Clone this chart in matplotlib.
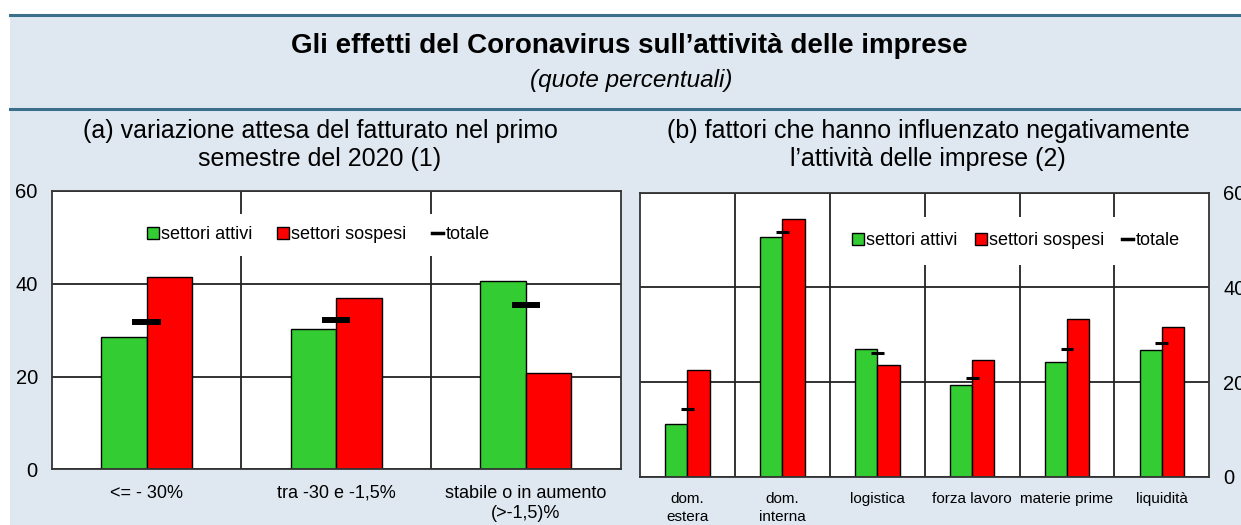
import numpy as np
import matplotlib
matplotlib.use('Agg')
import matplotlib.pyplot as plt
from matplotlib.lines import Line2D
from matplotlib.patches import Rectangle

plt.rcParams['font.family'] = ['Liberation Sans', 'DejaVu Sans']

# (a) variazione attesa del fatturato
cat_a = ['<= - 30%', 'tra -30 e -1,5%', 'stabile o in aumento\n(>-1,5)%']
attivi_a = [28.5, 30.3, 40.6]
sospesi_a = [41.4, 36.9, 20.8]
totale_a = [31.8, 32.1, 35.5]

# (b) fattori negativi
cat_b = ['dom.\nestera', 'dom.\ninterna', 'logistica', 'forza lavoro', 'materie prime', 'liquidità']
attivi_b = [11.1, 50.7, 27.0, 19.3, 24.3, 26.8]
sospesi_b = [22.6, 54.5, 23.6, 24.6, 33.3, 31.7]
totale_b = [14.3, 51.8, 26.2, 20.8, 27.0, 28.2]

GREEN = '#33cc33'
RED = '#ff0000'
BG = '#dfe8f1'
LINE = '#3b6f8c'

W, H = 1241, 525
fig = plt.figure(figsize=(W / 100, H / 100), dpi=100)
fig.patch.set_facecolor('white')

# light blue panel and the two dark rules
fig.add_artist(Rectangle((10 / W, 0), 1, 1 - 16 / H, transform=fig.transFigure,
                         facecolor=BG, edgecolor='none', zorder=0))
for yy in (15, 109):
    fig.add_artist(Line2D([10 / W, 1], [1 - yy / H, 1 - yy / H], transform=fig.transFigure,
                          color=LINE, linewidth=2.2, zorder=1))

fig.text(629 / W, 1 - 46 / H, 'Gli effetti del Coronavirus sull\u2019attività delle imprese',
         ha='center', va='center', fontsize=20, fontweight='bold')
fig.text(631 / W, 1 - 80 / H, '(quote percentuali)', ha='center', va='center',
         fontsize=17.5, style='italic')
fig.text(320 / W, 1 - 145 / H, '(a) variazione attesa del fatturato nel primo\nsemestre del 2020 (1)',
         ha='center', va='center', fontsize=18, linespacing=1.2)
fig.text(928 / W, 1 - 145 / H, '(b) fattori che hanno influenzato negativamente\nl\u2019attività delle imprese (2)',
         ha='center', va='center', fontsize=18, linespacing=1.2)


def panel(rect, cats, attivi, sospesi, totale, bw, dash_half, dash_lw, leg_pos, borderpad,
          colsp, xfs, xpad, xls, right=False):
    ax = fig.add_axes(rect)
    x = np.arange(len(cats))
    ax.bar(x - bw / 2, attivi, bw, color=GREEN, edgecolor='black', linewidth=1, zorder=2)
    ax.bar(x + bw / 2, sospesi, bw, color=RED, edgecolor='black', linewidth=1, zorder=2)
    ax.hlines(totale, x - dash_half, x + dash_half, color='black', linewidth=dash_lw, zorder=3)
    ax.set_xlim(-0.5, len(cats) - 0.5)
    ax.set_ylim(0, 60)
    ax.set_yticks([0, 20, 40, 60])
    ax.set_xticks(x)
    ax.set_xticklabels(cats, fontsize=xfs, linespacing=xls)
    ax.set_xticks(x[:-1] + 0.5, minor=True)
    ax.set_axisbelow(True)
    ax.grid(axis='y', color='#222222', linewidth=1.3)
    ax.grid(axis='x', which='minor', color='#222222', linewidth=1.3)
    ax.tick_params(which='both', length=0)
    ax.tick_params(axis='x', pad=xpad)
    ax.tick_params(axis='y', labelsize=14.5, pad=10)
    if right:
        ax.tick_params(axis='y', left=False, labelleft=False, right=True, labelright=True)
    for s in ax.spines.values():
        s.set_color('#333333')
        s.set_linewidth(1.3)
    handles = [
        Line2D([], [], marker='s', linestyle='none', markersize=8, markerfacecolor=GREEN,
               markeredgecolor='black', label='settori attivi'),
        Line2D([], [], marker='s', linestyle='none', markersize=8, markerfacecolor=RED,
               markeredgecolor='black', label='settori sospesi'),
        Line2D([], [], color='black', linewidth=2.5, label='totale'),
    ]
    leg = ax.legend(handles=handles, loc='center', bbox_to_anchor=leg_pos, ncol=3,
                    fontsize=13, frameon=True, facecolor='white', edgecolor='none',
                    framealpha=1, fancybox=False, handlelength=0.6, handletextpad=0.15,
                    columnspacing=colsp, borderpad=borderpad)
    leg.set_zorder(5)
    return ax


panel([51.7 / W, 55.7 / H, 569 / W, 278.3 / H], cat_a, attivi_a, sospesi_a, totale_a,
      0.24, 0.074, 4.3, (0.469, 0.842), 0.7, 1.4, 13, 11, 1.3)
panel([640 / W, 48.3 / H, 569.3 / W, 284 / H], cat_b, attivi_b, sospesi_b, totale_b,
      0.235, 0.068, 2.2, (0.661, 0.830), 0.85, 1.0, 11, 11, 1.4, right=True)

fig.savefig('out.png', dpi=100)
